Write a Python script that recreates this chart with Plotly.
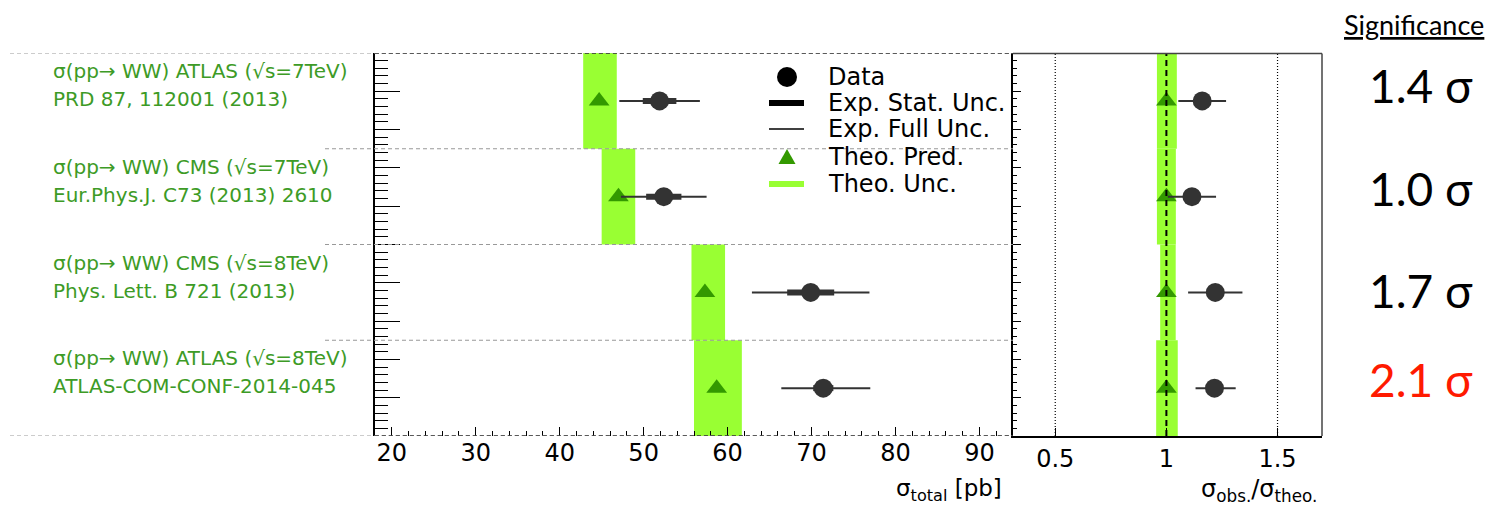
import plotly.graph_objects as go

# ---------------- data ----------------
label_line1 = ["σ(pp→ WW) ATLAS (√s=7TeV)", "σ(pp→ WW) CMS (√s=7TeV)",
               "σ(pp→ WW) CMS (√s=8TeV)", "σ(pp→ WW) ATLAS (√s=8TeV)"]
label_line2 = ["PRD 87, 112001 (2013)", "Eur.Phys.J. C73 (2013) 2610",
               "Phys. Lett. B 721 (2013)", "ATLAS-COM-CONF-2014-045"]
data_val = [51.9, 52.4, 69.9, 71.4]
stat_err = [2.0, 2.1, 2.8, 1.2]
full_err_up = [4.8, 5.1, 7.0, 5.6]
full_err_dn = [4.8, 5.1, 7.0, 5.0]
theo_val = [44.7, 47.0, 57.3, 58.7]
theo_err_up = [2.1, 2.0, 2.4, 3.0]
theo_err_dn = [1.9, 2.0, 1.6, 2.7]
significance = ["1.4 σ", "1.0 σ", "1.7 σ", "2.1 σ"]
sig_colors = ["#000000", "#000000", "#000000", "#ff1a00"]
legend_labels = ["Data", "Exp. Stat. Unc.", "Exp. Full Unc.", "Theo. Pred.", "Theo. Unc."]
xticks_main = [20, 30, 40, 50, 60, 70, 80, 90]
xticks_ratio = [0.5, 1, 1.5]

# ---------------- derived ----------------
n = len(data_val)
ypos = [n - i - 0.5 for i in range(n)]
theo_lo = [t - d for t, d in zip(theo_val, theo_err_dn)]
theo_hi = [t + u for t, u in zip(theo_val, theo_err_up)]
ratio = [d / t for d, t in zip(data_val, theo_val)]
ratio_up = [e / t for e, t in zip(full_err_up, theo_val)]
ratio_dn = [e / t for e, t in zip(full_err_dn, theo_val)]
ratio_theo = [t / t for t in theo_val]
ratio_lo = [lo / t for lo, t in zip(theo_lo, theo_val)]
ratio_hi = [hi / t for hi, t in zip(theo_hi, theo_val)]

# page body has an 8px margin: compensate so that window pixels match
OFF = 8
W, H = 1499 - OFF, 510 - OFF
def px(x):
    return (x - OFF) / W
def py(y):
    return 1 - (y - OFF) / H

LIME = "#99ff33"
TRI = "#339900"
DOT = "#333333"
TXTGREEN = "#3d9b26"
FONT = "DejaVu Sans, Liberation Sans, sans-serif"
SIGFONT = "Lato, sans-serif"

fig = go.Figure()

# theory bands
fig.add_trace(go.Bar(orientation="h", y=ypos, x=[h - l for h, l in zip(theo_hi, theo_lo)],
                     base=theo_lo, width=1.0, marker=dict(color=LIME, line=dict(width=0)),
                     xaxis="x", yaxis="y", showlegend=False, hoverinfo="skip"))
fig.add_trace(go.Bar(orientation="h", y=ypos, x=[h - l for h, l in zip(ratio_hi, ratio_lo)],
                     base=ratio_lo, width=1.0, marker=dict(color=LIME, line=dict(width=0)),
                     xaxis="x2", yaxis="y2", showlegend=False, hoverinfo="skip"))

# theory predictions
fig.add_trace(go.Scatter(x=theo_val, y=ypos, mode="markers",
                         marker=dict(symbol="triangle-up", size=18, color=TRI),
                         xaxis="x", yaxis="y", showlegend=False))
fig.add_trace(go.Scatter(x=ratio_theo, y=ypos, mode="markers",
                         marker=dict(symbol="triangle-up", size=18, color=TRI),
                         xaxis="x2", yaxis="y2", showlegend=False))

# full uncertainty
fig.add_trace(go.Scatter(x=data_val, y=ypos, mode="markers",
                         marker=dict(size=2, color="rgba(0,0,0,0)"),
                         error_x=dict(type="data", symmetric=False, array=full_err_up,
                                      arrayminus=full_err_dn, width=0, thickness=2, color=DOT),
                         xaxis="x", yaxis="y", showlegend=False))
fig.add_trace(go.Scatter(x=ratio, y=ypos, mode="markers",
                         marker=dict(size=2, color="rgba(0,0,0,0)"),
                         error_x=dict(type="data", symmetric=False, array=ratio_up,
                                      arrayminus=ratio_dn, width=0, thickness=2, color=DOT),
                         xaxis="x2", yaxis="y2", showlegend=False))
# stat uncertainty
fig.add_trace(go.Scatter(x=data_val, y=ypos, mode="markers",
                         marker=dict(size=2, color="rgba(0,0,0,0)"),
                         error_x=dict(type="data", array=stat_err, width=0, thickness=6, color=DOT),
                         xaxis="x", yaxis="y", showlegend=False))
# data points
fig.add_trace(go.Scatter(x=data_val, y=ypos, mode="markers",
                         marker=dict(symbol="circle", size=19, color=DOT),
                         xaxis="x", yaxis="y", showlegend=False))
fig.add_trace(go.Scatter(x=ratio, y=ypos, mode="markers",
                         marker=dict(symbol="circle", size=19, color=DOT),
                         xaxis="x2", yaxis="y2", showlegend=False))

shapes = []
annotations = []

# row separators
for k in range(n + 1):
    edge = (k == 0 or k == n)
    x0 = px(10) if edge else px(325)
    shapes.append(dict(type="line", xref="paper", yref="y", x0=x0, x1=px(1013), y0=k, y1=k,
                       line=dict(color="#999999", width=1.2, dash="4px,3px"), layer="above"))
    if edge:
        shapes.append(dict(type="line", xref="paper", yref="y", x0=px(375), x1=px(1013), y0=k, y1=k,
                           line=dict(color="#333333", width=1.5, dash="4px,3px"), layer="above"))

# ratio panel reference lines
for v in [0.5, 1.5]:
    shapes.append(dict(type="line", xref="x2", yref="y2", x0=v, x1=v, y0=0, y1=n,
                       line=dict(color="black", width=1.2, dash="1px,2px"), layer="below"))
shapes.append(dict(type="line", xref="x2", yref="y2", x0=1, x1=1, y0=0, y1=n,
                   line=dict(color="black", width=2, dash="6px,4px"), layer="above"))
# ratio panel frame (top and right)
shapes.append(dict(type="line", xref="paper", yref="paper", x0=px(1013), x1=px(1322),
                   y0=py(53.5), y1=py(53.5), line=dict(color="#444444", width=1.5)))
shapes.append(dict(type="line", xref="paper", yref="paper", x0=px(1322), x1=px(1322),
                   y0=py(53.5), y1=py(436), line=dict(color="#444444", width=1.5)))

# row labels
for i in range(n):
    top = 53 + i * 95.75
    annotations.append(dict(xref="paper", yref="paper", x=px(51), y=py(top + 18),
                            xanchor="left", yanchor="middle", showarrow=False,
                            text=label_line1[i], font=dict(family=FONT, size=20, color=TXTGREEN)))
    annotations.append(dict(xref="paper", yref="paper", x=px(51), y=py(top + 46),
                            xanchor="left", yanchor="middle", showarrow=False,
                            text=label_line2[i], font=dict(family=FONT, size=20, color=TXTGREEN)))

# significance column
sig_y = [88, 190, 292, 381]
annotations.append(dict(xref="paper", yref="paper", x=px(1414), y=py(25), xanchor="center",
                        yanchor="middle", showarrow=False, text="<u>Significance</u>",
                        font=dict(family=SIGFONT, size=27, color="black")))
for i in range(n):
    annotations.append(dict(xref="paper", yref="paper", x=px(1421), y=py(sig_y[i] - 2),
                            xanchor="center", yanchor="middle", showarrow=False,
                            text=significance[i],
                            font=dict(family=SIGFONT, size=46, color=sig_colors[i])))

# axis titles
annotations.append(dict(xref="paper", yref="paper", x=px(1004), y=py(490), xanchor="right",
                        yanchor="middle", showarrow=False, text="σ<sub>total</sub> [pb]",
                        font=dict(family=FONT, size=23, color="black")))
annotations.append(dict(xref="paper", yref="paper", x=px(1319), y=py(490), xanchor="right",
                        yanchor="middle", showarrow=False,
                        text="σ<sub>obs.</sub>/σ<sub>theo.</sub>",
                        font=dict(family=FONT, size=24, color="black")))

# legend (manual)
leg_x = 787
leg_text_x = 826
leg_y = [77, 103, 129, 157, 184]
shapes.append(dict(type="circle", xref="paper", yref="paper", xsizemode="pixel", ysizemode="pixel",
                   xanchor=px(leg_x), yanchor=py(leg_y[0]), x0=-10, x1=10, y0=-10, y1=10,
                   fillcolor="black", line=dict(width=0)))
shapes.append(dict(type="line", xref="paper", yref="paper", x0=px(769), x1=px(804),
                   y0=py(leg_y[1]), y1=py(leg_y[1]), line=dict(color="black", width=6)))
shapes.append(dict(type="line", xref="paper", yref="paper", x0=px(769), x1=px(804),
                   y0=py(leg_y[2]), y1=py(leg_y[2]), line=dict(color="black", width=1.5)))
shapes.append(dict(type="path", xref="paper", yref="paper", xsizemode="pixel", ysizemode="pixel",
                   xanchor=px(leg_x), yanchor=py(leg_y[3]), path="M-8.5,-7 L8.5,-7 L0,8 Z",
                   fillcolor=TRI, line=dict(width=0)))
shapes.append(dict(type="line", xref="paper", yref="paper", x0=px(769), x1=px(804),
                   y0=py(leg_y[4]), y1=py(leg_y[4]), line=dict(color=LIME, width=6)))
for lab, yy in zip(legend_labels, leg_y):
    annotations.append(dict(xref="paper", yref="paper", x=px(leg_text_x), y=py(yy),
                            xanchor="left", yanchor="middle", showarrow=False, text=lab,
                            font=dict(family=FONT, size=24, color="black")))

ydom = [py(436), py(53)]
fig.update_layout(
    width=W, height=H, margin=dict(l=0, r=0, t=0, b=0),
    paper_bgcolor="white", plot_bgcolor="rgba(0,0,0,0)",
    barmode="overlay", showlegend=False,
    font=dict(family=FONT, color="black"),
    xaxis=dict(domain=[px(375), px(1013)], range=[18, 94], anchor="y",
               tickvals=xticks_main, ticktext=[str(v) for v in xticks_main],
               ticks="inside", ticklen=9, tickwidth=1, tickcolor="black",
               minor=dict(dtick=2, tick0=0, ticks="inside", ticklen=5, tickwidth=1, tickcolor="black"),
               showline=False, showgrid=False, zeroline=False,
               tickfont=dict(family=FONT, size=24, color="black")),
    yaxis=dict(domain=ydom, range=[0, n], anchor="x",
               tick0=0, dtick=0.4, ticks="inside", ticklen=25, tickwidth=1.2, tickcolor="black",
               minor=dict(dtick=0.08, tick0=0, ticks="inside", ticklen=13, tickwidth=1.2, tickcolor="black"),
               showticklabels=False, showline=True, linewidth=2, linecolor="black",
               showgrid=False, zeroline=False),
    xaxis2=dict(domain=[px(1013), px(1322)], range=[0.31, 1.7], anchor="y2",
                tickvals=xticks_ratio, ticktext=["0.5", "1", "1.5"],
                ticks="inside", ticklen=8, tickwidth=1, tickcolor="black",
                showline=True, linewidth=1.5, linecolor="black",
                showgrid=False, zeroline=False,
                tickfont=dict(family=FONT, size=24, color="black")),
    yaxis2=dict(domain=ydom, range=[0, n], anchor="x2",
                tick0=0, dtick=0.4, ticks="inside", ticklen=8, tickwidth=1.2, tickcolor="black",
                minor=dict(dtick=0.08, tick0=0, ticks="inside", ticklen=4, tickwidth=1, tickcolor="black"),
                showticklabels=False, showline=True, linewidth=2, linecolor="black",
                showgrid=False, zeroline=False),
    shapes=shapes, annotations=annotations,
)

fig.write_html("out.html")
